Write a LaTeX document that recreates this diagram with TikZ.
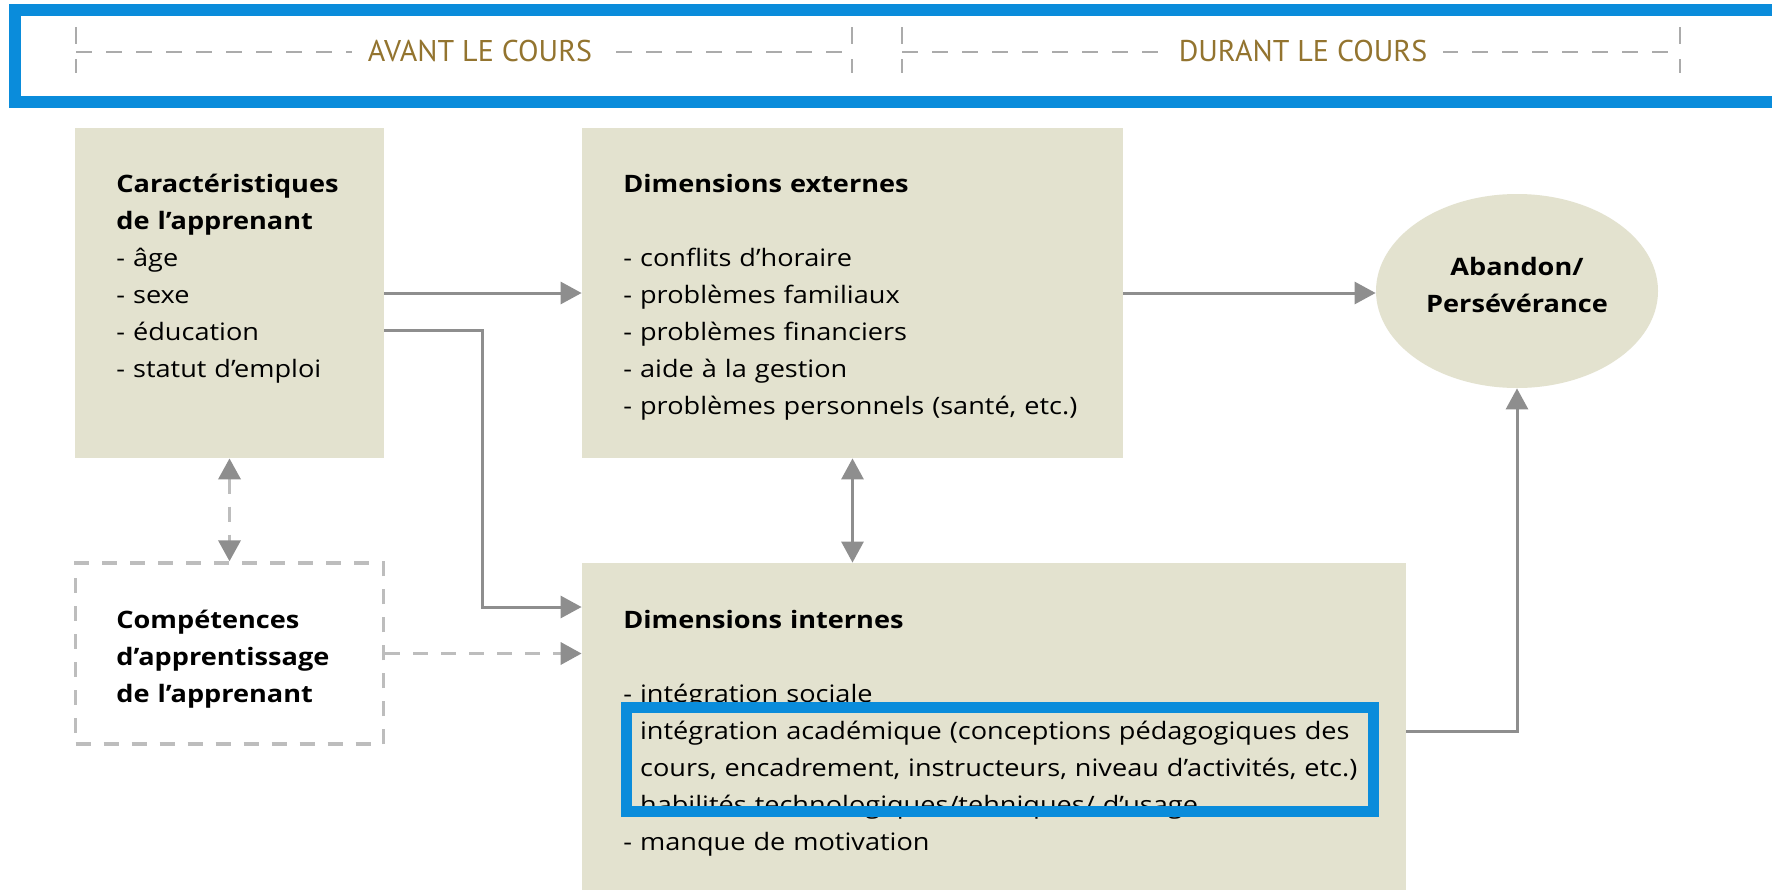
\documentclass[tikz,border=0pt]{standalone}
\usepackage{fontspec}
\setmainfont{Open Sans}[FakeStretch=1.13]
\newfontfamily\hdrfont{PT Sans}
\usetikzlibrary{arrows.meta,shapes.geometric,calc}
\definecolor{boxfill}{HTML}{E3E2CF}
\definecolor{arrgray}{HTML}{8E8E8E}
\definecolor{dashgray}{HTML}{BDBDBD}
\definecolor{hdrgray}{HTML}{ABABAB}
\definecolor{hlblue}{HTML}{0A8CDB}
\definecolor{gold}{HTML}{93742F}
\begin{document}
\begin{tikzpicture}[x=0.5pt,y=-0.5pt,
  >={Triangle[length=10.5pt,width=11pt,color=arrgray]},
  box/.style={fill=boxfill, draw=none, inner sep=0pt, rectangle},
  dbox/.style={draw=dashgray, line width=1.7pt, dash pattern=on 7.5pt off 6.5pt, fill=white, inner sep=0pt, rectangle},
  oval/.style={fill=boxfill, draw=none, ellipse, inner sep=0pt},
  txt/.style={anchor=base west, inner sep=0pt, align=left, text width=#1, font=\fontsize{12}{18.5}\selectfont},
  ctxt/.style={anchor=base, inner sep=0pt, align=center, font=\fontsize{12}{18.5}\selectfont\bfseries},
  hdr/.style={fill=white, inner xsep=8pt, inner ysep=2pt, text=gold, font=\hdrfont\fontsize{15}{16}\selectfont},
  arr/.style={draw=arrgray, line width=1.5pt, ->},
  darr/.style={draw=arrgray, line width=1.5pt, <->},
  dsharr/.style={draw=dashgray, line width=1.8pt, dash pattern=on 7.5pt off 6.5pt, ->},
  dshdarr/.style={draw=dashgray, line width=1.8pt, dash pattern=on 7.5pt off 6.5pt, <->},
  hline/.style={draw=hdrgray, line width=1.3pt, dash pattern=on 8pt off 7pt},
  tick/.style={draw=hdrgray, line width=1.3pt},
  hl/.style={draw=hlblue, line width=5.5pt}
]
\useasboundingbox (0,0) rectangle (1772,889);
\clip (0,0) rectangle (1772,889);
\fill[white] (0,0) rectangle (1772,889);

% header
\draw[hline] (76,52) -- (852,52);
\draw[hline] (902,52) -- (1680,52);
\draw[tick] (76,27) -- (76,44) (76,59) -- (76,73);
\draw[tick] (852,27) -- (852,44) (852,59) -- (852,73);
\draw[tick] (902,27) -- (902,44) (902,59) -- (902,73);
\draw[tick] (1680,27) -- (1680,44) (1680,59) -- (1680,73);
\node[hdr] (avant) at (480,51) {AVANT LE COURS};
\node[hdr] (durant) at (1303,51) {DURANT LE COURS};
\draw[hl, line width=6pt] (15,10) rectangle (1800,102);

% boxes
\node[box, minimum width=154.5pt, minimum height=165pt] (A) at (229.5,293) {};
\node[box, minimum width=270.5pt, minimum height=165pt] (B) at (852.5,293) {};
\node[dbox, minimum width=154pt, minimum height=90.5pt] (C) at (229.5,653.5) {};
\node[box, minimum width=412pt, minimum height=168.5pt] (D) at (994,731.5) {};
\node[oval, minimum width=141pt, minimum height=97pt] (E) at (1517,291) {};

% texts
\node[txt=150pt] (tA) at (116,192) {\textbf{Caractéristiques}\\\textbf{de l’apprenant}\\- âge\\- sexe\\- éducation\\- statut d’emploi};
\node[txt=260pt] (tB) at (623,192) {\textbf{Dimensions externes}\\[18.5pt]- conflits d’horaire\\- problèmes familiaux\\- problèmes financiers\\- aide à la gestion\\- problèmes personnels (santé, etc.)};
\node[txt=150pt] (tC) at (116,628) {\textbf{Compétences}\\\textbf{d’apprentissage}\\\textbf{de l’apprenant}};
\node[txt=400pt] (tD) at (623,628) {\textbf{Dimensions internes}\\[18.5pt]- intégration sociale\\\hphantom{- }intégration académique (conceptions pédagogiques des\\\hphantom{- }cours, encadrement, instructeurs, niveau d’activités, etc.)\\\hphantom{- }habilités technologiques/tehniques/ d’usage\\- manque de motivation};
\node[ctxt] (tE) at (1517,312) {Abandon/\\Persévérance};

% highlight
\draw[hl] (626.5,707.5) rectangle (1373.5,811.5);

% connectors
\draw[arr] (A.east) -- (B.west);
\coordinate (elbow) at (482,607);
\draw[arr] ([yshift=-18.5pt]A.east) -| (elbow) -- (elbow -| D.west);
\draw[arr] (B.east) -- (B.east -| E.west);
\draw[dshdarr] (A.south) -- (C.north);
\draw[dsharr] (C.east) -- (C.east -| D.west);
\draw[darr] (B.south) -- (B.south |- D.north);
\draw[arr] (D.east) -| (E.south);
\end{tikzpicture}
\end{document}
